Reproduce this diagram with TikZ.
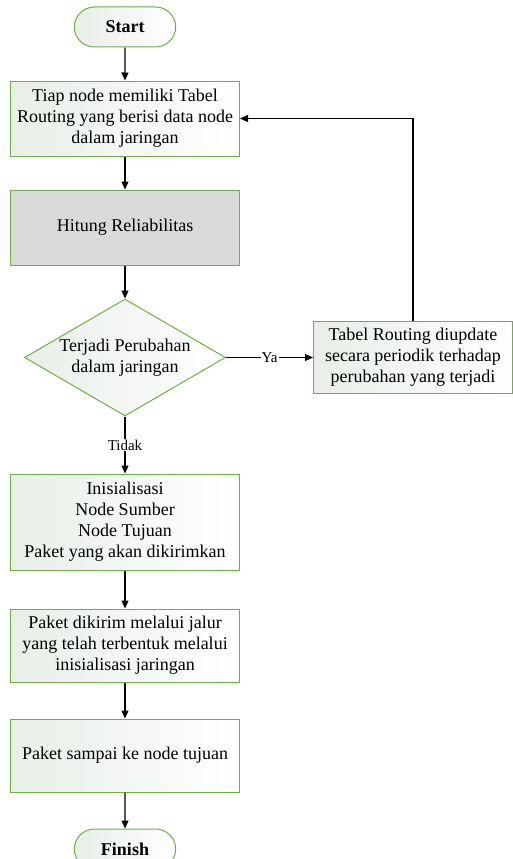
\documentclass[tikz,border=0pt]{standalone}
\usepackage{fontspec}
\setmainfont{Liberation Serif}
\usetikzlibrary{arrows.meta,positioning,shapes.misc,shapes.geometric}
\definecolor{boxgreen}{RGB}{112,173,71}
\definecolor{calcgray}{RGB}{217,217,217}
\definecolor{boxshade}{RGB}{232,238,232}
\tikzset{
  procbox/.style={draw=boxgreen, line width=1pt, align=center, minimum width=229pt, minimum height=73pt, inner sep=2pt, left color=boxshade, right color=white, font=\fontsize{18}{21}\selectfont},
  calcbox/.style={procbox, fill=calcgray, left color=calcgray, right color=calcgray},
  termbox/.style={draw=boxgreen, line width=1pt, rounded rectangle, minimum width=108pt, minimum height=40pt, left color=boxshade, right color=white, font=\fontsize{18}{21}\selectfont\bfseries},
  decbox/.style={draw=boxgreen, line width=1pt, diamond, aspect=1.72, align=center, minimum width=201pt, minimum height=117pt, inner sep=0pt, left color=boxshade, right color=white, font=\fontsize{18}{21}\selectfont},
  arrow/.style={-{Triangle[length=8pt,width=7pt]}, line width=1.2pt},
  lbl/.style={fill=white, inner sep=1pt, font=\fontsize{15}{17}\selectfont}
}
\begin{document}
\begin{tikzpicture}[node distance=33pt]
  \useasboundingbox (0,0) rectangle (513pt,-859pt);
  \node[termbox] (start) at (125pt,-27pt) {Start};
  \node[procbox, below=of start, minimum height=75pt] (tabel) {Tiap node memiliki Tabel\\Routing yang berisi data node\\dalam jaringan};
  \node[calcbox, below=of tabel, minimum height=75pt] (hitung) {Hitung Reliabilitas};
  \node[decbox, below=of hitung] (ubah) {Terjadi Perubahan\\dalam jaringan};
  \node[procbox, right=87pt of ubah, minimum width=199pt, minimum height=72pt] (update) {Tabel Routing diupdate\\secara periodik terhadap\\perubahan yang terjadi};
  \node[procbox, below=57pt of ubah, minimum height=96pt] (init) {Inisialisasi\\Node Sumber\\Node Tujuan\\Paket yang akan dikirimkan};
  \node[procbox, below=38pt of init] (kirim) {Paket dikirim melalui jalur\\yang telah terbentuk melalui\\inisialisasi jaringan};
  \node[procbox, below=36pt of kirim] (sampai) {Paket sampai ke node tujuan};
  \node[termbox, below=36pt of sampai] (finish) {Finish};
  \foreach \a/\b in {start/tabel,tabel/hitung,hitung/ubah,init/kirim,kirim/sampai,sampai/finish}
    \draw[arrow] (\a) -- (\b);
  \draw[arrow] (ubah) -- node[lbl] {Ya} (update);
  \draw[arrow] (ubah) -- node[lbl] {Tidak} (init);
  \draw[arrow] (update.north) |- (tabel.east);
\end{tikzpicture}
\end{document}
